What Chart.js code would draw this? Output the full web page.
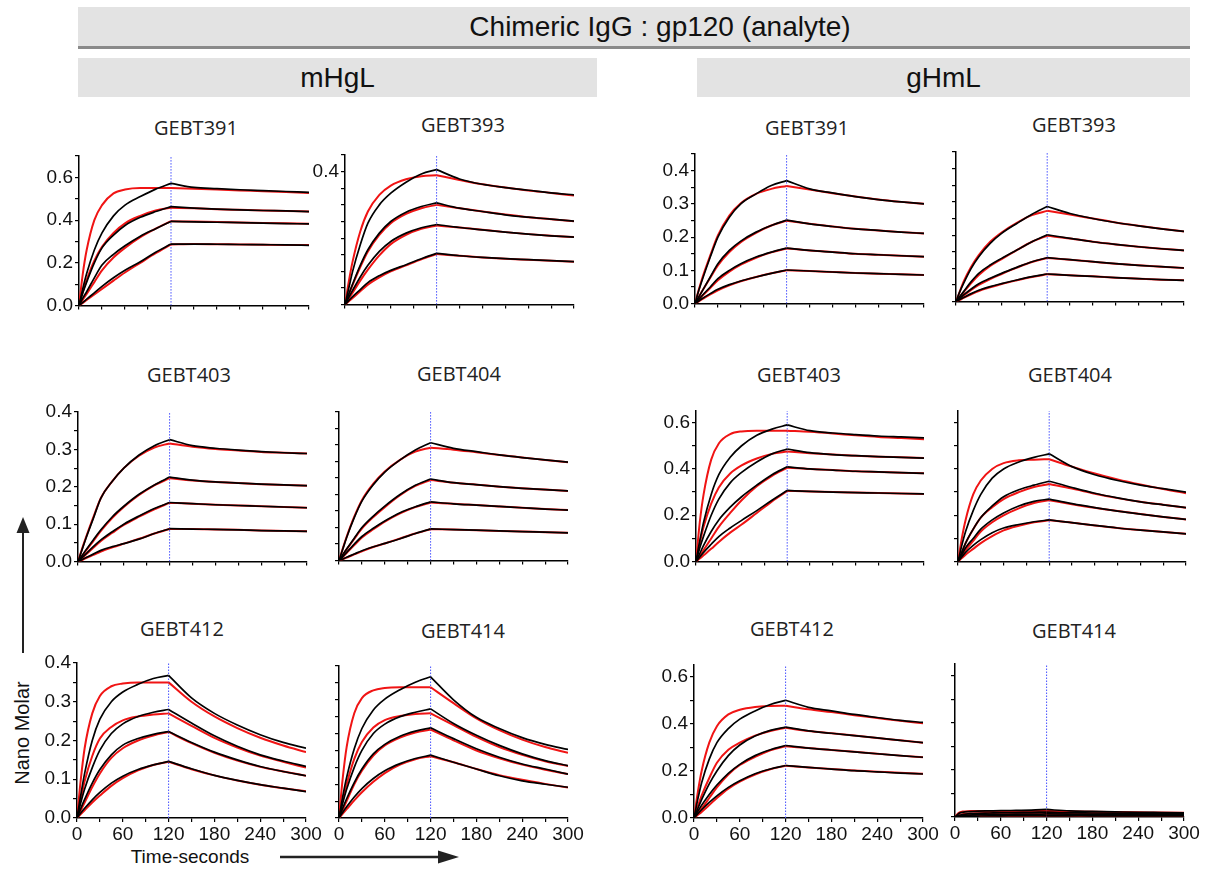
<!DOCTYPE html>
<html>
<head>
<meta charset="utf-8">
<script src="https://cdn.jsdelivr.net/npm/chart.js@4.4.1/dist/chart.umd.min.js"></script>
<style>
  body { margin: 0; width: 1214px; height: 869px; position: relative; overflow: hidden; background: #fff;
         font-family: "Liberation Sans", Arial, sans-serif; }
  .bar { position: absolute; background: #e3e3e3; color: #111; font-size: 28px;
         display: flex; align-items: center; justify-content: center; box-sizing: border-box; }
  .ptitle { position: absolute; font-family: "Open Sans", sans-serif; font-size: 20px; color: #222;
            transform: translate(-50%, -50%); white-space: nowrap; }
  .axlabel { position: absolute; font-size: 19px; color: #111; white-space: nowrap; transform: translate(-50%, -50%); }
  canvas { position: absolute; }
  svg { position: absolute; left: 0; top: 0; }
</style>
</head>
<body>
<div class="bar" id="mainBar" style="left:78px;top:7px;width:1112px;height:40px;padding-left:52px;"></div>
<div style="position:absolute;left:78px;top:46px;width:1112px;height:3px;background:#8a8a8a;"></div>
<div class="bar" id="grp0" style="left:78px;top:58px;width:519px;height:39px;"></div>
<div class="bar" id="grp1" style="left:697px;top:58px;width:493px;height:39px;"></div>
<div class="axlabel" id="ylab" style="left:22px;top:733px;font-size:20px;transform:translate(-50%,-50%) rotate(-90deg);"></div>
<div class="axlabel" id="xlab" style="left:190px;top:857px;"></div>
<svg width="1214" height="869">
  <line x1="23" y1="653" x2="23" y2="530" stroke="#222" stroke-width="2"/>
  <polygon points="23,517 16.5,533 29.5,533" fill="#222"/>
  <line x1="280" y1="857" x2="440" y2="857" stroke="#222" stroke-width="2.5"/>
  <polygon points="459,857 438,850.5 438,863.5" fill="#222"/>
</svg>
<script>
// ---- text ----
const mainTitle = 'Chimeric IgG : gp120 (analyte)';
const groupNames = ['mHgL', 'gHmL'];
const panelNames = ['GEBT391', 'GEBT393', 'GEBT391', 'GEBT393',
                    'GEBT403', 'GEBT404', 'GEBT403', 'GEBT404',
                    'GEBT412', 'GEBT414', 'GEBT412', 'GEBT414'];
const yAxisTitle = 'Nano Molar';
const xAxisTitle = 'Time-seconds';

// ---- ticks ----
const xTickLabels = ['0', '60', '120', '180', '240', '300'];
const yLabA = ['0.0', '0.2', '0.4', '0.6'];
const yLabB = ['0.0', '0.1', '0.2', '0.3', '0.4'];
const yLabC = ['0.4'];
const yLabNone = [];
const injectionEnd = 120;

// ---- sampled time points (s); index 9 = end of injection ----
const timeS = [0, 5, 10, 20, 30, 45, 60, 80, 100, 120, 150, 180, 210, 240, 270, 300];

// mHgL GEBT391
const mH391Black = [
  [0,0.08,0.15,0.26,0.34,0.42,0.47,0.51,0.545,0.572,0.553,0.547,0.542,0.538,0.534,0.530],
  [0,0.06,0.11,0.20,0.27,0.33,0.375,0.413,0.44,0.463,0.456,0.451,0.448,0.445,0.443,0.440],
  [0,0.035,0.065,0.13,0.19,0.24,0.28,0.325,0.36,0.394,0.392,0.390,0.388,0.386,0.384,0.382],
  [0,0.015,0.03,0.06,0.09,0.13,0.165,0.205,0.25,0.288,0.288,0.287,0.286,0.285,0.284,0.282]];
const mH391Red = [
  [0,0.15,0.26,0.40,0.47,0.525,0.543,0.55,0.55,0.55,0.547,0.543,0.539,0.535,0.531,0.527],
  [0,0.065,0.12,0.21,0.275,0.34,0.385,0.42,0.445,0.458,0.455,0.451,0.448,0.445,0.443,0.440],
  [0,0.028,0.055,0.11,0.165,0.225,0.27,0.32,0.36,0.395,0.393,0.391,0.389,0.387,0.385,0.383],
  [0,0.013,0.026,0.052,0.078,0.117,0.155,0.2,0.245,0.286,0.288,0.287,0.286,0.285,0.284,0.283]];

// mHgL GEBT393
const mH393Black = [
  [0,0.05,0.10,0.18,0.245,0.30,0.335,0.368,0.393,0.406,0.378,0.362,0.352,0.344,0.336,0.330],
  [0,0.032,0.062,0.118,0.165,0.215,0.25,0.278,0.295,0.306,0.29,0.28,0.27,0.263,0.257,0.251],
  [0,0.022,0.043,0.083,0.118,0.16,0.19,0.215,0.231,0.241,0.232,0.225,0.218,0.212,0.207,0.203],
  [0,0.012,0.024,0.045,0.066,0.087,0.103,0.12,0.138,0.154,0.147,0.142,0.138,0.135,0.132,0.129]];
const mH393Red = [
  [0,0.07,0.13,0.22,0.28,0.33,0.358,0.377,0.386,0.389,0.375,0.362,0.352,0.343,0.336,0.328],
  [0,0.03,0.059,0.113,0.16,0.21,0.245,0.273,0.29,0.30,0.29,0.28,0.271,0.263,0.257,0.251],
  [0,0.018,0.036,0.072,0.105,0.148,0.182,0.21,0.228,0.238,0.232,0.225,0.218,0.212,0.207,0.203],
  [0,0.01,0.02,0.04,0.06,0.082,0.1,0.118,0.136,0.152,0.147,0.142,0.138,0.135,0.132,0.129]];

// gHmL GEBT391
const gH391Black = [
  [0,0.04,0.075,0.14,0.2,0.26,0.30,0.33,0.355,0.37,0.345,0.333,0.322,0.313,0.306,0.300],
  [0,0.02,0.04,0.08,0.12,0.16,0.188,0.215,0.235,0.251,0.24,0.232,0.225,0.22,0.215,0.211],
  [0,0.013,0.026,0.05,0.075,0.1,0.12,0.14,0.155,0.167,0.16,0.155,0.15,0.147,0.144,0.141],
  [0,0.008,0.016,0.03,0.043,0.057,0.068,0.08,0.091,0.101,0.098,0.095,0.092,0.09,0.088,0.086]];
const gH391Red = [
  [0,0.042,0.08,0.145,0.205,0.265,0.302,0.33,0.345,0.354,0.343,0.332,0.322,0.313,0.306,0.300],
  [0,0.02,0.04,0.078,0.115,0.155,0.185,0.213,0.235,0.249,0.24,0.232,0.225,0.22,0.215,0.211],
  [0,0.012,0.024,0.047,0.07,0.096,0.117,0.138,0.154,0.166,0.16,0.155,0.15,0.147,0.144,0.141],
  [0,0.007,0.014,0.028,0.04,0.055,0.067,0.08,0.091,0.1,0.098,0.095,0.092,0.09,0.088,0.086]];

// gHmL GEBT393
const gH393Black = [
  [0,0.03,0.055,0.10,0.135,0.175,0.205,0.235,0.263,0.286,0.265,0.25,0.238,0.228,0.219,0.211],
  [0,0.015,0.03,0.06,0.085,0.11,0.13,0.155,0.18,0.201,0.19,0.18,0.172,0.165,0.159,0.154],
  [0,0.01,0.02,0.038,0.054,0.07,0.085,0.103,0.12,0.132,0.126,0.12,0.114,0.109,0.105,0.101],
  [0,0.006,0.012,0.024,0.034,0.045,0.054,0.065,0.075,0.083,0.079,0.076,0.072,0.069,0.066,0.064]];
const gH393Red = [
  [0,0.03,0.06,0.105,0.14,0.18,0.208,0.237,0.26,0.273,0.262,0.25,0.238,0.228,0.219,0.211],
  [0,0.014,0.028,0.056,0.08,0.107,0.128,0.155,0.18,0.198,0.19,0.18,0.172,0.165,0.159,0.154],
  [0,0.009,0.018,0.035,0.05,0.068,0.083,0.102,0.119,0.131,0.126,0.12,0.114,0.109,0.105,0.101],
  [0,0.005,0.011,0.022,0.032,0.043,0.053,0.064,0.074,0.082,0.079,0.076,0.072,0.069,0.066,0.064]];

// mHgL GEBT403
const mH403Black = [
  [0,0.03,0.06,0.115,0.17,0.215,0.25,0.285,0.31,0.326,0.31,0.303,0.298,0.294,0.291,0.289],
  [0,0.015,0.03,0.058,0.085,0.12,0.148,0.18,0.205,0.226,0.218,0.213,0.21,0.207,0.205,0.203],
  [0,0.01,0.02,0.04,0.058,0.08,0.1,0.122,0.142,0.158,0.155,0.152,0.15,0.148,0.146,0.144],
  [0,0.005,0.01,0.02,0.03,0.04,0.048,0.06,0.075,0.088,0.087,0.086,0.085,0.083,0.082,0.081]];
const mH403Red = [
  [0,0.032,0.062,0.118,0.17,0.215,0.25,0.283,0.305,0.316,0.307,0.301,0.297,0.293,0.291,0.289],
  [0,0.014,0.028,0.055,0.082,0.117,0.146,0.178,0.204,0.223,0.217,0.213,0.21,0.207,0.205,0.203],
  [0,0.009,0.018,0.037,0.055,0.077,0.098,0.12,0.14,0.157,0.155,0.152,0.15,0.148,0.146,0.144],
  [0,0.004,0.009,0.018,0.027,0.038,0.048,0.061,0.075,0.087,0.087,0.086,0.085,0.083,0.082,0.081]];

// mHgL GEBT404
const mH404Black = [
  [0,0.035,0.07,0.13,0.18,0.23,0.268,0.305,0.335,0.357,0.34,0.33,0.32,0.312,0.305,0.298],
  [0,0.018,0.035,0.068,0.1,0.135,0.165,0.2,0.228,0.247,0.236,0.23,0.224,0.219,0.215,0.211],
  [0,0.012,0.025,0.05,0.073,0.098,0.12,0.145,0.163,0.178,0.172,0.168,0.164,0.16,0.156,0.153],
  [0,0.005,0.01,0.02,0.03,0.042,0.052,0.066,0.082,0.096,0.094,0.092,0.09,0.088,0.086,0.084]];
const mH404Red = [
  [0,0.037,0.072,0.133,0.183,0.233,0.27,0.305,0.33,0.342,0.336,0.328,0.32,0.312,0.305,0.298],
  [0,0.017,0.034,0.066,0.097,0.132,0.162,0.198,0.226,0.244,0.236,0.23,0.224,0.219,0.215,0.211],
  [0,0.011,0.023,0.047,0.07,0.095,0.118,0.143,0.162,0.176,0.172,0.168,0.164,0.16,0.156,0.153],
  [0,0.004,0.009,0.019,0.028,0.041,0.052,0.067,0.082,0.095,0.094,0.092,0.09,0.088,0.086,0.084]];

// gHmL GEBT403
const gH403Black = [
  [0,0.09,0.17,0.29,0.375,0.45,0.5,0.545,0.572,0.59,0.565,0.555,0.548,0.542,0.538,0.534],
  [0,0.06,0.11,0.2,0.27,0.34,0.385,0.43,0.465,0.486,0.47,0.462,0.457,0.453,0.45,0.447],
  [0,0.035,0.07,0.13,0.18,0.235,0.28,0.33,0.375,0.409,0.4,0.395,0.39,0.387,0.384,0.381],
  [0,0.02,0.04,0.075,0.108,0.145,0.178,0.22,0.265,0.307,0.303,0.3,0.298,0.296,0.294,0.292]];
const gH403Red = [
  [0,0.17,0.29,0.44,0.51,0.55,0.562,0.565,0.565,0.565,0.56,0.553,0.545,0.538,0.533,0.528],
  [0,0.08,0.15,0.25,0.32,0.38,0.415,0.445,0.465,0.475,0.468,0.462,0.457,0.453,0.45,0.447],
  [0,0.025,0.05,0.1,0.15,0.21,0.265,0.325,0.37,0.405,0.4,0.395,0.39,0.387,0.384,0.381],
  [0,0.013,0.027,0.055,0.085,0.125,0.16,0.21,0.26,0.305,0.303,0.3,0.298,0.296,0.294,0.292]];

// gHmL GEBT404
const gH404Black = [
  [0,0.07,0.13,0.22,0.29,0.36,0.4,0.43,0.45,0.465,0.41,0.375,0.35,0.33,0.315,0.3],
  [0,0.04,0.08,0.14,0.19,0.24,0.28,0.31,0.33,0.347,0.32,0.295,0.275,0.258,0.245,0.233],
  [0,0.03,0.06,0.1,0.14,0.18,0.21,0.24,0.26,0.27,0.25,0.233,0.218,0.205,0.193,0.182],
  [0,0.02,0.04,0.07,0.095,0.125,0.145,0.16,0.172,0.18,0.168,0.156,0.145,0.136,0.128,0.12]];
const gH404Red = [
  [0,0.1,0.18,0.29,0.35,0.4,0.425,0.437,0.44,0.442,0.41,0.38,0.355,0.333,0.313,0.295],
  [0,0.04,0.08,0.14,0.19,0.235,0.27,0.3,0.322,0.335,0.315,0.293,0.274,0.258,0.245,0.232],
  [0,0.025,0.05,0.09,0.13,0.17,0.2,0.23,0.253,0.265,0.248,0.232,0.218,0.205,0.193,0.182],
  [0,0.015,0.03,0.055,0.08,0.11,0.135,0.155,0.17,0.178,0.168,0.156,0.145,0.136,0.128,0.12]];

// mHgL GEBT412
const mH412Black = [
  [0,0.06,0.115,0.2,0.255,0.3,0.325,0.345,0.36,0.368,0.31,0.27,0.24,0.215,0.195,0.18],
  [0,0.04,0.075,0.13,0.175,0.218,0.243,0.262,0.273,0.28,0.245,0.212,0.185,0.163,0.147,0.133],
  [0,0.025,0.048,0.09,0.125,0.163,0.188,0.205,0.216,0.223,0.195,0.17,0.15,0.133,0.12,0.109],
  [0,0.013,0.025,0.047,0.066,0.09,0.108,0.125,0.137,0.146,0.127,0.11,0.097,0.086,0.077,0.068]];
const mH412Red = [
  [0,0.1,0.18,0.27,0.315,0.34,0.347,0.35,0.35,0.35,0.30,0.262,0.232,0.207,0.187,0.17],
  [0,0.05,0.095,0.16,0.205,0.235,0.252,0.262,0.267,0.27,0.238,0.207,0.182,0.161,0.145,0.13],
  [0,0.02,0.04,0.08,0.115,0.155,0.18,0.2,0.213,0.222,0.193,0.168,0.148,0.132,0.12,0.109],
  [0,0.01,0.02,0.04,0.058,0.083,0.103,0.123,0.137,0.145,0.126,0.11,0.097,0.086,0.077,0.069]];

// mHgL GEBT414
const mH414Black = [
  [0,0.065,0.12,0.205,0.265,0.32,0.352,0.38,0.402,0.418,0.35,0.298,0.265,0.238,0.218,0.203],
  [0,0.045,0.085,0.15,0.2,0.25,0.278,0.3,0.313,0.323,0.28,0.245,0.215,0.19,0.17,0.155],
  [0,0.03,0.057,0.105,0.145,0.19,0.218,0.242,0.257,0.267,0.235,0.205,0.18,0.16,0.145,0.13],
  [0,0.017,0.033,0.062,0.087,0.117,0.14,0.161,0.176,0.186,0.165,0.145,0.125,0.11,0.1,0.091]];
const mH414Red = [
  [0,0.12,0.21,0.31,0.355,0.378,0.385,0.387,0.387,0.387,0.34,0.295,0.26,0.232,0.21,0.193],
  [0,0.055,0.1,0.175,0.225,0.268,0.29,0.302,0.308,0.31,0.275,0.24,0.21,0.187,0.168,0.154],
  [0,0.025,0.05,0.1,0.14,0.185,0.215,0.238,0.253,0.262,0.23,0.2,0.177,0.158,0.143,0.13],
  [0,0.013,0.026,0.052,0.076,0.107,0.133,0.158,0.174,0.183,0.165,0.145,0.127,0.113,0.101,0.09]];

// gHmL GEBT412
const gH412Black = [
  [0,0.08,0.15,0.25,0.32,0.38,0.42,0.455,0.482,0.5,0.47,0.455,0.44,0.427,0.415,0.406],
  [0,0.04,0.078,0.145,0.2,0.265,0.31,0.348,0.372,0.386,0.37,0.36,0.35,0.34,0.33,0.32],
  [0,0.028,0.054,0.1,0.14,0.19,0.228,0.265,0.29,0.308,0.297,0.289,0.281,0.273,0.265,0.258],
  [0,0.018,0.035,0.066,0.094,0.13,0.158,0.188,0.208,0.223,0.215,0.208,0.201,0.196,0.191,0.187]];
const gH412Red = [
  [0,0.11,0.2,0.32,0.39,0.44,0.46,0.472,0.476,0.477,0.462,0.45,0.437,0.425,0.413,0.402],
  [0,0.05,0.095,0.17,0.235,0.29,0.32,0.35,0.37,0.383,0.37,0.36,0.35,0.34,0.33,0.32],
  [0,0.02,0.04,0.085,0.13,0.185,0.225,0.26,0.288,0.305,0.297,0.289,0.281,0.273,0.265,0.258],
  [0,0.013,0.026,0.055,0.085,0.125,0.155,0.185,0.207,0.222,0.215,0.208,0.202,0.197,0.192,0.188]];

// gHmL GEBT414
const gH414Black = [
  [0,0.015,0.02,0.023,0.025,0.026,0.027,0.028,0.029,0.032,0.026,0.024,0.022,0.02,0.019,0.018],
  [0,0.006,0.01,0.014,0.016,0.017,0.018,0.019,0.02,0.021,0.018,0.017,0.016,0.015,0.014,0.014],
  [0,0.003,0.006,0.008,0.01,0.011,0.011,0.012,0.012,0.013,0.012,0.011,0.011,0.01,0.01,0.01],
  [0,0.001,0.002,0.003,0.004,0.005,0.005,0.006,0.006,0.006,0.006,0.005,0.005,0.005,0.005,0.005]];
const gH414Red = [
  [0,0.018,0.023,0.025,0.026,0.026,0.026,0.026,0.026,0.026,0.024,0.022,0.021,0.02,0.019,0.018],
  [0,0.008,0.012,0.015,0.016,0.017,0.018,0.018,0.018,0.019,0.017,0.016,0.016,0.015,0.014,0.014],
  [0,0.004,0.006,0.008,0.009,0.01,0.011,0.011,0.012,0.012,0.011,0.011,0.01,0.01,0.01,0.01],
  [0,0.002,0.002,0.003,0.004,0.004,0.005,0.005,0.005,0.006,0.006,0.005,0.005,0.005,0.005,0.005]];

// ---- panels: which data goes where, and where on the page ----
const blackSets = [mH391Black, mH393Black, gH391Black, gH393Black, mH403Black, mH404Black,
                   gH403Black, gH404Black, mH412Black, mH414Black, gH412Black, gH414Black];
const redSets = [mH391Red, mH393Red, gH391Red, gH393Red, mH403Red, mH404Red,
                 gH403Red, gH404Red, mH412Red, mH414Red, gH412Red, gH414Red];
const yLabelSets = [yLabA, yLabC, yLabB, yLabNone, yLabB, yLabNone,
                    yLabA, yLabNone, yLabB, yLabNone, yLabA, yLabNone];
const yMaxes = [0.7, 0.45, 0.45, 0.45, 0.4, 0.45, 0.65, 0.65, 0.4, 0.45, 0.65, 0.65];
const ySteps = [0.1, 0.05, 0.05, 0.05, 0.05, 0.05, 0.1, 0.1, 0.05, 0.05, 0.1, 0.1];

// plot box in page px: left, right, top, bottom ; title centre
const boxes = [
  [79, 309, 156, 309, 196, 127], [345, 574, 155, 308, 463, 124],
  [695, 924, 154, 307, 807, 127], [956, 1184, 152, 305, 1074, 124],
  [78, 307, 412, 565, 189, 374], [339, 568, 412, 564, 459, 373],
  [696, 924, 411, 565, 799, 374], [958, 1186, 411, 565, 1070, 374],
  [77, 306, 663, 818, 182, 628], [339, 568, 666, 818, 463, 630],
  [694, 923, 665, 818, 792, 628], [955, 1184, 664, 817, 1074, 630]];

document.getElementById('mainBar').textContent = mainTitle;
document.getElementById('grp0').textContent = groupNames[0];
document.getElementById('grp1').textContent = groupNames[1];
document.getElementById('ylab').textContent = yAxisTitle;
document.getElementById('xlab').textContent = xAxisTitle;

const tickFont = { family: '"Liberation Sans", Arial, sans-serif', size: 19 };
const SPLIT = timeS.indexOf(injectionEnd);

// association and dissociation are drawn as two pieces so the peak stays sharp
function pieces(arr, color, width) {
  const pts = arr.map((v, k) => ({ x: timeS[k], y: v }));
  return [pts.slice(0, SPLIT + 1), pts.slice(SPLIT)].map(d => ({
    data: d, borderColor: color, borderWidth: width, cubicInterpolationMode: 'monotone'
  }));
}

function makePanel(i) {
  const [bl, br, bt, bb, tx, ty] = boxes[i];
  const bottomRow = i >= 8;
  const padL = 62, padR = 24, padT = 14, padB = bottomRow ? 34 : 10;
  const w = padL + (br - bl) + padR;
  const h = padT + (bb - bt) + padB;

  const t = document.createElement('div');
  t.className = 'ptitle';
  t.style.left = tx + 'px';
  t.style.top = ty + 'px';
  t.textContent = panelNames[i];
  document.body.appendChild(t);

  const cv = document.createElement('canvas');
  cv.width = w; cv.height = h;
  cv.style.width = w + 'px'; cv.style.height = h + 'px';
  cv.style.left = (bl - padL) + 'px';
  cv.style.top = (bt - padT) + 'px';
  document.body.appendChild(cv);

  const datasets = [];
  blackSets[i].forEach(arr => datasets.push(...pieces(arr, '#000', 1.7)));
  redSets[i].forEach(arr => datasets.push(...pieces(arr, '#f01414', 2)));
  datasets.push({
    data: [{ x: injectionEnd, y: 0 }, { x: injectionEnd, y: yMaxes[i] }],
    borderColor: '#4650ff', borderWidth: 1, borderDash: [1.5, 1.5]
  });

  const labs = yLabelSets[i];
  const chart = new Chart(cv, {
    type: 'line',
    data: { datasets },
    options: {
      responsive: false,
      animation: false,
      devicePixelRatio: 1,
      layout: { padding: { left: 0, right: padR, top: padT, bottom: 0 } },
      plugins: { legend: { display: false }, tooltip: { enabled: false } },
      elements: { point: { radius: 0 }, line: { fill: false } },
      scales: {
        x: {
          type: 'linear', min: 0, max: 300,
          border: { display: true, color: '#000', width: 1.5 },
          grid: { display: true, drawOnChartArea: false, drawTicks: true, tickLength: 4, color: '#000', lineWidth: 1.2 },
          ticks: {
            stepSize: 30, autoSkip: false, maxRotation: 0, padding: 1, color: '#111', font: tickFont,
            callback: v => {
              const r = Math.round(v);
              return (bottomRow && r % 60 === 0) ? xTickLabels[r / 60] : '';
            }
          },
          afterFit: s => { s.height = padB; }
        },
        y: {
          type: 'linear', min: 0, max: yMaxes[i],
          border: { display: true, color: '#000', width: 1.5 },
          grid: { display: true, drawOnChartArea: false, drawTicks: true, tickLength: 4, color: '#000', lineWidth: 1.2 },
          ticks: {
            stepSize: ySteps[i], autoSkip: false, includeBounds: false, padding: 2, color: '#111', font: tickFont,
            callback: v => {
              if (Math.abs(v * 10 - Math.round(v * 10)) > 1e-6) return '';
              const s = v.toFixed(1);
              return labs.includes(s) ? s : '';
            }
          },
          afterFit: s => { s.width = padL; }
        }
      }
    }
  });

  // line the plot area up with the target box
  const ca = chart.chartArea;
  cv.style.left = (bl - ca.left) + 'px';
  cv.style.top = (bt - ca.top) + 'px';
}

for (let i = 0; i < 12; i++) makePanel(i);
</script>
</body>
</html>
